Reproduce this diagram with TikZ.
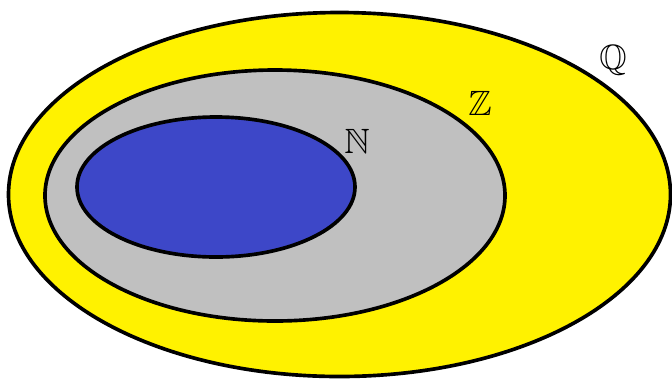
\documentclass[tikz,border=0pt]{standalone}
\usepackage{amssymb}
\definecolor{setQ}{RGB}{255,242,0}
\definecolor{setZ}{RGB}{192,192,192}
\definecolor{setN}{RGB}{61,71,200}

\begin{document}
\begin{tikzpicture}[x=0.025cm,y=-0.025cm,line width=2.6pt,
every node/.append style={font=\fontsize{25}{30}\selectfont}]
\useasboundingbox (0,0) rectangle (672,378);
\draw[fill=setQ] (339.5,194.5) ellipse [x radius=331,y radius=182];
\draw[fill=setZ] (275,195.5) ellipse [x radius=230,y radius=125.5];
\draw[fill=setN] (216,187) ellipse [x radius=139,y radius=70];

\node (Q) at (613,60) {$\mathbb{Q}$};
\node (Z) at (480,103) {$\mathbb{Z}$};
\node (N) at (357,141) {$\mathbb{N}$};
\end{tikzpicture}
\end{document}
